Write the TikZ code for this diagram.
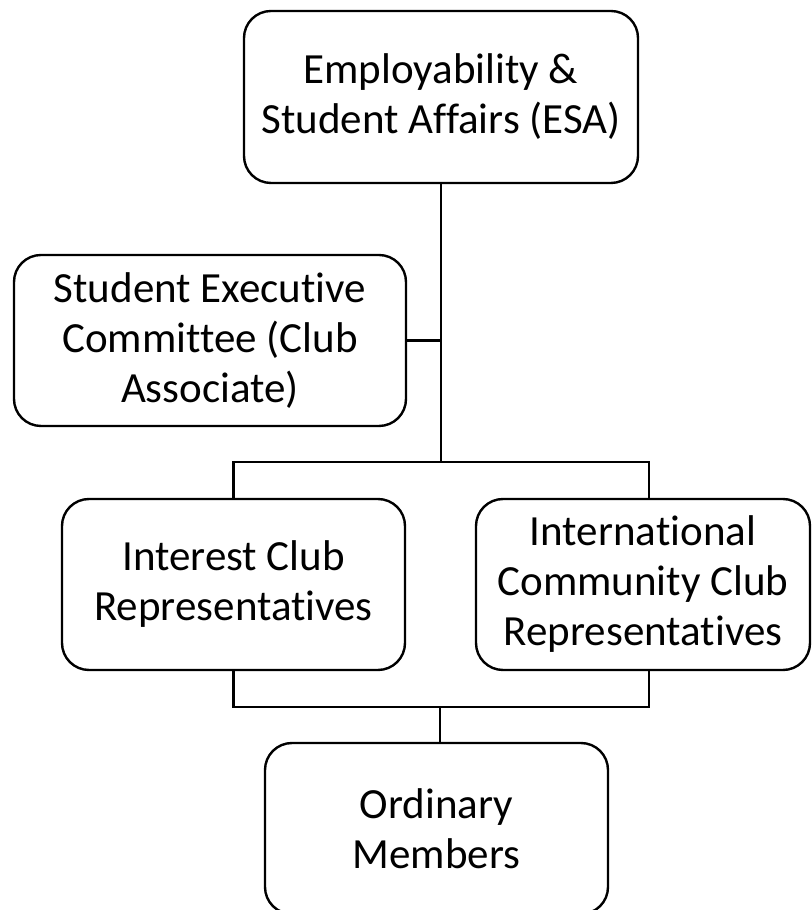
\documentclass[tikz,border=0pt]{standalone}
\usepackage{fontspec}
\setmainfont{Carlito}[Ligatures={NoCommon,NoContextual}]
\usepackage{tikz}
\usetikzlibrary{positioning, calc}

\begin{document}
\begin{tikzpicture}[
  x=1pt, y=1pt,
  unit/.style={draw=black, line width=2.4pt, rounded corners=27pt, fill=white, align=center, inner sep=0pt, minimum height=171pt, font=\fontsize{43}{50}\selectfont},
  link/.style={draw=black, line width=2.4pt}
]
\useasboundingbox (0,0) rectangle (811,910);
\node[unit, minimum width=394pt, minimum height=172pt] (esa) at (441,813) {Employability \&\\Student Affairs (ESA)};
\node[unit, minimum width=392pt] (sec) at (210,569.5) {Student Executive\\Committee (Club\\Associate)};
\node[unit, minimum width=343pt] (icr) at (233.5,325.5) {Interest Club\\Representatives};
\node[unit, minimum width=334pt] (icc) at (643,325.5) {International\\Community Club\\Representatives};
\node[unit, minimum width=343pt] (om) at (436.5,81.5) {Ordinary\\Members};
\coordinate (fork) at (441,448);
\coordinate (join) at (440,203);
\draw[link] (esa.south) -- (fork);
\draw[link] (sec.east) -- (sec.east -| fork);
\draw[link] (icr.north) |- (fork) -| ([xshift=6pt]icc.north);
\draw[link] (icr.south) |- (join) -| ([xshift=6pt]icc.south);
\draw[link] (join) -- (join |- om.north);
\end{tikzpicture}
\end{document}
